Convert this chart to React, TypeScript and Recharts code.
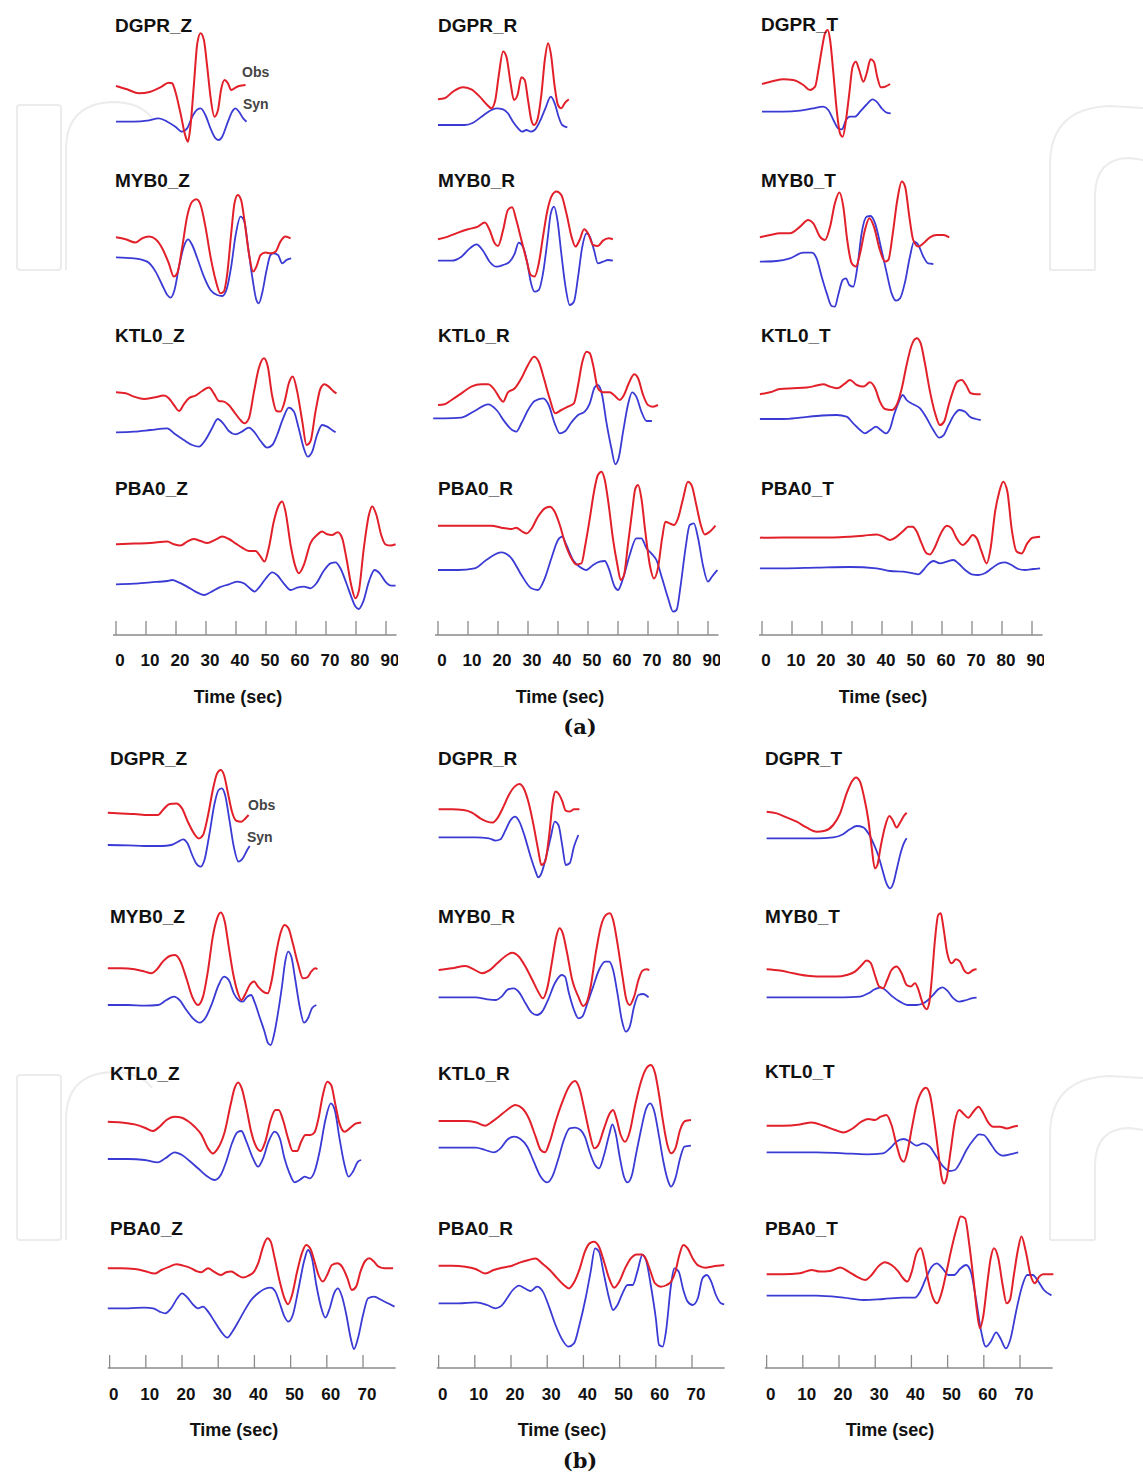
import React from 'react';
import { LineChart, Line, XAxis, YAxis, ReferenceLine } from 'recharts';

type Pt = [number, number];

// ===================== Figure (a) : time (s), amplitude (up positive) =====================
const aDgprZObs: Pt[] = [[0,0],[3.7,-3.3],[7.6,-7.3],[11.5,-5.7],[14.8,-1.3],[17.6,3.3],[18.7,2.7],[19.8,-5.7],[21.5,-27.3],[23.2,-50.7],[24,-55.7],[24.8,-40.7],[26,2.7],[27.1,42.7],[28.2,52.7],[29.3,46],[30.4,19.3],[31.5,-10.7],[32.8,-30.7],[34,-24],[35,-4],[36.2,6],[37.3,2.7],[38.4,-4],[39.5,-2.3],[41,0],[43.2,1]];
const aDgprZSyn: Pt[] = [[0,0],[6,0],[10.4,1],[14.3,3.3],[17.1,0],[19.8,-5],[22,-10],[23.7,-6.7],[25.4,5],[27.1,12.3],[28.2,13.3],[29.8,6.7],[31.5,-6.7],[33.2,-16.7],[34.3,-18.3],[35.4,-15],[37.1,-1.7],[38.7,10],[39.8,13.3],[41,10],[42.4,3.3],[43.5,0]];
const aMyb0ZObs: Pt[] = [[0,0],[3.2,-2],[6.5,-5.3],[8.7,-1],[11,0.7],[13.2,-2],[15.4,-11],[17.6,-26],[19.3,-39.3],[20.4,-36],[22.1,-9.3],[23.7,20.7],[25.4,35.7],[26.8,38],[28.2,32.3],[29.8,10.7],[31.5,-19.3],[33.2,-42.7],[34.8,-56],[35.9,-54.3],[37.1,-36],[38.4,4],[39.5,34],[40.6,42.3],[41.7,37.3],[42.8,17.3],[44.3,-16],[45.7,-34.3],[46.8,-29.3],[48.2,-17.7],[49.8,-15.3],[51.5,-16],[53.2,-14.3],[54.8,-4.3],[56.5,0.7],[58.2,-1]];
const aMyb0ZSyn: Pt[] = [[0,0],[6,-1],[10.4,-4.3],[13.2,-14.3],[15.4,-27.7],[17.1,-37.7],[18.2,-40.3],[19.5,-32.7],[21,-9.3],[22.6,10.7],[24,18],[25.4,12.3],[27.1,-1],[29.3,-19.3],[31.5,-32.7],[33.7,-37.7],[35.4,-38.7],[36.8,-32.7],[38.4,-9.3],[39.8,20.7],[41.5,40.7],[42.8,35.7],[44,10.7],[45.4,-19.3],[46.8,-42.7],[47.6,-46],[48.7,-36],[50.2,-12.7],[51.5,2.3],[52.6,4],[54,2.3],[55.4,-6],[56.8,-2.7],[58.4,-1]];
const aKtl0ZObs: Pt[] = [[0,0],[3.2,-1],[6,-4.3],[9.3,-6.7],[12.6,-5.3],[16,-3.3],[17.6,-6],[19.3,-12.7],[21,-18.7],[22.6,-12],[24.3,-6],[26.5,-3.3],[28.7,1.3],[31,4.7],[32.6,-1],[34.3,-8.7],[36,-9.3],[37.6,-12.7],[39.3,-19.3],[41,-26],[42.8,-31],[44.3,-26],[46,0.7],[47.6,24],[49.3,34],[50.6,25.7],[52,-2.7],[53.5,-18.7],[54.8,-19.3],[56.2,-9.3],[57.6,9],[58.9,15.7],[60.4,0.7],[62.1,-29.3],[63.5,-52.7],[64.8,-49.3],[66.5,-19.3],[68.2,4],[69.5,8],[70.9,5.7],[72.6,0.7],[73.5,-1]];
const aKtl0ZSyn: Pt[] = [[0,0],[6,0.7],[11.5,2.3],[17.1,4],[19.3,-1],[22.6,-7.7],[25.4,-12.7],[27.6,-14.3],[29.8,-7.7],[32,4],[33.9,13.3],[35.7,9],[37.6,1.3],[39.8,-2],[42,0.7],[44.3,4.7],[46,0.7],[48.2,-8.7],[50.4,-15.3],[52.1,-12.7],[53.7,-2.7],[55.7,14],[57.6,24.7],[59.3,20.7],[60.9,4],[62.6,-16],[63.9,-24.3],[65.4,-19.3],[67,-2.7],[68.7,7.3],[70.4,5.7],[72,2.3],[73.2,0]];
const aPba0ZObs: Pt[] = [[0,0],[6,0.7],[11.5,1.3],[17.1,2.7],[19.3,0],[21.5,-1.3],[23.7,2.7],[25.9,5.3],[28.2,3.3],[30.4,1.3],[33.2,4.7],[35.4,7.7],[37.6,5.3],[39.8,1],[42,-3.3],[44.3,-6.7],[46.5,-6.7],[48.2,-12.3],[49.5,-17.3],[50.9,-4],[52.6,22.7],[54.3,39.3],[55.4,42.7],[56.5,32.7],[58.2,-0.7],[59.8,-22.3],[60.9,-29],[62.6,-20.7],[64.8,1],[67,9.3],[68.7,12.7],[70.4,10],[72,9.3],[73.9,12],[75.4,6],[76.8,-14],[78.4,-40.7],[79.8,-54],[80.9,-47.3],[82.6,-4],[84.3,29.3],[85.4,37.7],[86.8,29.3],[88.4,9.3],[89.8,0],[91.5,-1.3],[93.2,0]];
const aPba0ZSyn: Pt[] = [[0,0],[6,0.7],[11.5,2],[17.1,3.3],[18.7,4.3],[20.9,2],[23.7,-2.3],[26.5,-7.3],[29.3,-10.7],[31.5,-8],[34.3,-3.3],[37.6,0],[40.4,2.7],[42.6,1],[44.6,-4],[46.2,-7.3],[47.9,-2.3],[49.8,5.3],[52.1,12],[53.7,9.3],[55.9,1],[58.2,-5.7],[60.4,-3.3],[62.6,-2.3],[64.8,-4],[66.8,1],[69.1,12.7],[71.5,21],[73.2,22],[74.8,16],[76.8,1],[78.4,-12.3],[79.8,-22.3],[80.9,-24.7],[82.4,-17.3],[84.3,2.7],[86.2,14.3],[87.9,11],[89.8,2.7],[91.7,-1.3],[93.2,-1.3]];

const aDgprRObs: Pt[] = [[0,0],[2.2,1],[5,7.7],[8.3,12],[11.1,10],[13.9,2.7],[16.1,-4.7],[17.8,-9],[19.1,-0.7],[20.2,22.7],[21.7,47.7],[22.8,42.7],[24.2,16],[25.3,-0.7],[26.5,4.3],[27.8,22],[28.9,19.3],[30,-0.7],[31.1,-20.7],[32,-25.7],[33.1,-20.7],[34.5,6],[35.6,39.3],[36.7,56],[37.6,46],[38.9,12.7],[40,-5.7],[41.1,-9],[42.2,-4],[43.6,0]];
const aDgprRSyn: Pt[] = [[0,0],[4.5,0],[8.9,0],[11.7,2.3],[14.5,8.3],[17.2,14],[19.5,16.7],[21.7,15.7],[23.3,11.7],[25,3.3],[26.7,-3.3],[28,-6.7],[29.5,-5],[30.9,-6.7],[32.2,-5],[33.9,3.3],[35.8,16.7],[37.6,28.3],[38.9,21.7],[40.2,8.3],[41.4,0],[43.1,-2.3]];
const aMyb0RObs: Pt[] = [[0,0],[3.3,2.7],[6.7,6.7],[10,10],[13.3,12.7],[15.6,16.7],[17.2,9.3],[18.9,-4],[20,-6.7],[21.7,9.3],[23.3,29.3],[24.7,32],[26.1,19.3],[27.8,-0.7],[29.5,-20.7],[30.9,-35.7],[32.2,-37.3],[33.6,-24],[35,2.7],[36.5,29.3],[37.8,42.7],[39.5,47.7],[41.1,44.3],[42.8,26],[44.5,2.7],[45.8,-7.3],[47.2,-0.7],[48.7,10],[50,6],[51.7,-5.7],[53.3,-6.7],[55,-1.3],[56.9,1],[58.3,0]];
const aMyb0RSyn: Pt[] = [[0,0],[4.5,0],[7.8,4],[10.6,12.3],[12.8,16.3],[15,10],[17.2,-1],[19.5,-6],[21.7,-4.3],[23.9,-1],[25.6,7.3],[26.9,18],[28.3,14],[29.8,-2.7],[30.9,-21],[32.2,-31],[33.6,-29.3],[35,-12.7],[36.5,20.7],[37.6,47.3],[38.7,54],[39.8,40.7],[41.1,7.3],[42.5,-26],[43.9,-44.3],[45.3,-41],[46.7,-16],[48,12.3],[49.5,27.3],[50.6,24],[52,10.7],[53.3,-2.7],[55,-1],[56.7,0.7],[58.3,0]];
const aKtl0RObs: Pt[] = [[0,0],[2.2,0.7],[4.5,5],[7.8,11.7],[11.1,18.3],[14.5,20.7],[16.7,20.7],[18.9,15],[20.6,6.7],[21.7,3.3],[23.3,12.7],[25.6,16.7],[27.8,26.7],[30,40],[32,48.3],[33.6,43.3],[35.3,26.7],[37.2,6.7],[39.1,-8.3],[41.1,-5],[43.3,-1.7],[45.3,1.7],[46.7,20],[48,41.7],[49.5,53.3],[50.6,51.7],[51.7,40],[53.3,16.7],[55,12.7],[57.2,12.7],[58.9,9.3],[60.6,5],[62,10],[63.6,21.7],[65.4,30.7],[66.7,26.7],[68.3,10.7],[70,0],[71.7,-1.7],[73.3,0]];
const aKtl0RSyn: Pt[] = [[-1.6,0],[2.2,0],[7.8,0.7],[12.2,7.3],[16.7,14],[19.5,8.3],[22.2,-3.3],[24.7,-11.7],[26.1,-13.3],[27.8,-5],[30,8.3],[32.2,17.3],[35,20],[36.9,13.3],[38.9,-5],[40.6,-15],[42.2,-13.3],[44.5,-4],[46.7,3.3],[48.9,6.7],[50.6,15],[52.2,30.7],[53.3,33.3],[54.7,23.3],[56.1,-3.3],[57.8,-30],[59.1,-46],[60.2,-40],[61.7,-13.3],[63.3,13.3],[64.7,26],[66.1,21.7],[67.8,6.7],[69.5,-2.7],[71.3,-2.7]];
const aPba0RObs: Pt[] = [[0,0],[6.7,0],[12.2,0],[17.8,0],[21.1,-2],[24.5,-3.3],[26.1,-2],[27.8,-5.3],[29.5,-7.7],[31.1,-3.3],[33.3,9],[35.6,17.3],[37.2,19],[38.9,14],[40.6,0.7],[42.2,-16],[44.2,-31],[46.1,-38.7],[47.8,-37.7],[49.1,-19.3],[50.6,7.3],[52,34],[53.3,50.7],[54.5,54],[55.6,45.7],[56.9,20.7],[58.3,-12.7],[59.8,-39.3],[60.9,-54.3],[62,-49.3],[63.3,-19.3],[64.7,14],[65.8,37.3],[66.7,40.7],[67.8,27.3],[69.1,-6],[70.6,-39.3],[72,-52.7],[73.3,-42.7],[74.7,-12.7],[75.8,4],[77.2,2.3],[78.7,0.7],[80,7.3],[81.7,27.3],[83.3,44],[84.5,40.7],[86.1,20.7],[87.6,0.7],[88.9,-8.7],[90.6,-6],[92.5,0]];
const aPba0RSyn: Pt[] = [[0,0],[6.7,0],[12.2,1.7],[16.1,10],[21.1,17.7],[24.5,11.7],[27.8,-5],[31.1,-18.3],[33.3,-20],[35.6,-8.3],[37.8,11.7],[40,30],[41.4,33.3],[42.8,25],[45,10],[47.2,3.3],[49.5,0],[51.7,5],[53.9,8.3],[55.6,9],[56.9,1.7],[58.9,-16.7],[60,-20],[61.7,-8.3],[63.9,15],[66.1,31.7],[67.8,31.7],[69.5,21.7],[71.1,16.7],[72.8,10],[74.7,-8.3],[76.7,-28.3],[78.4,-41.7],[79.5,-40],[80.9,-15],[82.5,21.7],[83.9,45],[85.3,46.7],[86.7,31.7],[88.3,5],[90,-11.7],[91.3,-6.7],[93.1,0]];

const aDgprTObs: Pt[] = [[0,0],[3.8,3],[7.1,4.7],[10.4,4],[13.8,-1],[16,-6],[17.7,-2.7],[18.8,14],[19.9,34],[21,50.7],[21.9,54],[22.7,44],[23.8,10.7],[24.9,-26],[26,-49.3],[26.9,-52.7],[28,-36],[29.1,-9.3],[30.2,17.3],[31.3,22.3],[32.4,14],[33.8,2.3],[34.9,10.7],[36.2,24.7],[37.3,22.3],[38.4,7.3],[39.6,-3.3],[41,-2.7],[42.7,0]];
const aDgprTSyn: Pt[] = [[0,0],[7.1,0],[12.7,1],[17.1,3.3],[20.4,5],[22.1,1.7],[23.8,-8.3],[25.4,-16.7],[26.6,-17.7],[28,-8.3],[29.3,-5],[31,-5],[32.7,0],[34.7,6.7],[36.9,12.3],[38.2,10],[39.9,3.3],[41.6,-1],[42.9,-1.7]];
const aMyb0TObs: Pt[] = [[-0.7,0],[2.7,2.3],[6,4],[9.3,4],[12.7,10.7],[15.4,17.3],[17.1,14],[19.3,0.7],[21,-2.7],[22.7,10.7],[24.3,34],[25.8,44.7],[27.1,30.7],[28.4,-2.7],[29.9,-26],[31.3,-29.3],[32.7,-16],[34.3,7.3],[35.8,19],[37.3,10.7],[39.3,-12.7],[41,-24.3],[42.1,-22.7],[43.6,4],[45.1,37.3],[46.6,55.7],[47.7,50.7],[49.1,20.7],[50.4,-2.7],[52.1,-9.3],[53.8,-6],[56,0],[58.2,2.3],[60.4,2.3],[62.4,0]];
const aMyb0TSyn: Pt[] = [[-0.7,0],[4.9,0.7],[9.3,3.3],[13.8,9],[16.6,9],[18.2,3.3],[19.9,-15],[21.6,-31.7],[23.2,-44.3],[24.3,-45],[25.4,-33.3],[26.9,-18.3],[28,-16.7],[29.1,-23.3],[30.4,-25],[31.8,-5],[33.2,28.3],[34.9,45],[36.2,45.7],[37.7,38.3],[39.6,15],[41.6,-11.7],[43.2,-31.7],[44.7,-39],[46,-36.7],[47.7,-20],[49.3,5],[50.7,20],[52.1,16.7],[53.8,5],[55.4,-1.7],[57.1,-2.3]];
const aKtl0TObs: Pt[] = [[-0.7,0],[2.7,2],[6,5.3],[10.4,6],[14.9,6.7],[18.2,8.7],[20.4,10],[22.7,7.7],[25.1,6],[27.7,11],[29.3,14.3],[31.6,9.3],[33.8,7.7],[36,12],[37.7,6],[39.3,-7.3],[41,-14.7],[43.2,-15.7],[44.9,-10.7],[46.6,6],[48.2,29.3],[49.9,49.3],[51.6,56],[52.9,51],[54.3,31],[56,2.7],[57.7,-19],[59.3,-30.7],[60.7,-27.3],[62.1,-12.3],[63.6,2.7],[65.1,12.7],[66.6,14.3],[68,9.3],[69.6,1],[71.6,0],[72.9,0]];
const aKtl0TSyn: Pt[] = [[-0.7,0],[7.1,0],[12.7,1.3],[18.2,3],[24.9,4],[28.2,2.3],[30.4,-4.3],[32.7,-11],[34.3,-14.3],[36.2,-11],[38,-7.7],[39.6,-11],[41.3,-14.3],[42.7,-9.3],[44,4],[45.4,15.7],[46.9,24],[48.2,19],[50.4,14.7],[52.7,10.7],[54.9,0.7],[57.1,-11],[59.1,-18.7],[60.4,-16.7],[62.1,-6.7],[64,4],[65.8,9],[67.7,7.3],[69.3,2.3],[71.3,0],[72.9,-1]];
const aPba0TObs: Pt[] = [[-0.7,0],[7.1,0.3],[12.7,0.3],[18.2,0.3],[23.8,0.3],[29.3,1],[33.8,2],[38.2,3.3],[40.4,1],[42.7,-2.3],[44.9,1],[47.1,6.7],[48.8,11],[50.2,11],[51.6,6],[53.2,-5.7],[54.9,-15.7],[56,-16.7],[57.7,-9],[59.6,4.3],[61.6,12],[63.2,9.3],[64.9,-0.7],[66.9,-7.3],[68.8,-2.3],[70.2,2.7],[71.6,-0.7],[73.2,-14],[74.9,-25.7],[76.2,-10.7],[77.7,26],[79.1,46],[80.4,56],[81.8,46],[83.2,9.3],[84.9,-14],[86.6,-15.7],[88.4,-5.7],[90.2,0],[92.7,1]];
const aPba0TSyn: Pt[] = [[-0.7,0],[7.1,0],[18.2,0.7],[29.3,1.3],[38.2,0],[42.7,-2.7],[47.1,-3.3],[50.4,-5],[52.1,-6],[53.8,-1.7],[55.4,4],[57.1,7.3],[59.3,5],[61.6,6.7],[63.8,8.3],[65.4,5],[67.7,-1.7],[69.9,-6],[72.1,-6.7],[74.3,-5],[76.6,0],[79.1,5],[81,6],[83.2,3.3],[85.4,-0.7],[87.7,-1.7],[90.4,-0.7],[92.7,0]];

// ===================== Figure (b) =====================
const bDgprZObs: Pt[] = [[-0.5,0],[3.2,-0.7],[6.9,-1.3],[10.6,-2.3],[13.4,-2.3],[14.7,2.7],[16.6,8.7],[18.4,9.3],[20,4.3],[21.6,-9],[23.3,-20.7],[24.6,-25.7],[25.8,-22.3],[27.2,-2.3],[28.5,22.7],[29.7,39.3],[30.7,42.7],[31.6,37.7],[32.7,19.3],[33.8,1],[35,-8],[36.4,-9],[37.5,-5.7],[38.4,-2.3]];
const bDgprZSyn: Pt[] = [[-0.5,0],[5.1,-0.3],[9.7,-1],[14.3,-1],[17,0],[18.9,3.3],[20.3,5.7],[21.5,1.7],[22.8,-10],[23.9,-18.3],[25.1,-21.7],[26.2,-15],[27.6,11.7],[29,41.7],[30.1,55],[31,56.7],[31.9,50],[33.1,25],[34.3,-1.7],[35.6,-16.7],[36.8,-13.3],[38,-5],[38.7,-1]];
const bMyb0ZObs: Pt[] = [[-0.5,0],[3.2,0],[6.9,-1],[9.7,-3.3],[11.5,-5],[12.9,-1.7],[14.7,6.7],[16.6,12.3],[18.1,13.3],[19.6,6.7],[21.2,-10],[22.8,-28.3],[24.4,-36.7],[25.8,-28.3],[27.2,-1.7],[28.5,31.7],[29.7,50],[30.7,55.7],[31.8,46.7],[32.9,21.7],[34.1,-5],[35.3,-23.3],[36.4,-31.7],[37.5,-25.7],[38.7,-16.7],[39.9,-13.3],[41,-18.3],[42.4,-23.3],[43.7,-25],[44.8,-11.7],[46,15],[47.2,35],[48.3,43.3],[49.4,40],[50.6,25],[52,5],[53.4,-10],[54.6,-9],[55.7,-3.3],[56.8,0],[57.4,-1]];
const bMyb0ZSyn: Pt[] = [[-0.5,0],[5.1,0],[9.7,-0.7],[13.4,0],[15.7,5],[17.8,8.3],[19.3,5],[21.2,-5],[23,-13.3],[24.9,-17.7],[26.4,-13.3],[28.3,1.7],[30.1,20],[31.6,28.3],[32.9,25],[34.3,11.7],[35.6,5],[36.8,3.3],[38,8.3],[39.1,10],[40,3.3],[41.4,-11.7],[42.8,-26.7],[43.7,-37.7],[44.5,-40],[45.4,-30],[46.5,-8.3],[47.6,18.3],[48.5,43.3],[49.3,53.3],[50.2,48.3],[51.3,25],[52.5,-1.7],[53.7,-17.7],[54.8,-13.3],[55.9,-3.3],[57.1,0]];
const bKtl0ZObs: Pt[] = [[-0.5,0],[3.2,-0.7],[6.9,-2.7],[9.7,-6],[11.9,-9.3],[13.8,-5],[15.7,1.7],[18,5],[20,4],[21.6,0.7],[23.5,-5],[25.3,-12.7],[27.2,-26.7],[28.5,-31.7],[29.9,-26.7],[31.8,-10],[33.4,16.7],[34.5,33.3],[35.5,39.3],[36.5,33.3],[37.8,13.3],[39.1,-10],[40.5,-25],[41.7,-29.3],[43,-20],[44.5,1.7],[45.8,11.7],[46.7,11.7],[47.9,1.7],[49.3,-16.7],[50.6,-29.3],[51.8,-29.3],[52.9,-20],[54.1,-13.3],[55.5,-13.3],[56.6,-10.7],[57.7,3.3],[58.9,26.7],[60.1,40],[61.2,36.7],[62.3,18.3],[63.5,-1.7],[64.9,-10],[66.3,-6.7],[68.1,-1.7],[69.5,-0.7]];
const bKtl0ZSyn: Pt[] = [[-0.5,0],[5.1,0],[9.7,-1],[13.4,-3.3],[15.4,0.7],[18,6.7],[20,4],[22.1,-2],[24.4,-9.3],[26.7,-16.7],[29,-21],[30.7,-16],[32.2,-2.7],[33.8,15.7],[35.3,26.7],[36.4,28],[37.8,17.3],[39.6,0.7],[41,-7.7],[42.4,0.7],[43.9,17.3],[45.6,27.3],[47,20.7],[48.3,0.7],[49.7,-14.3],[51.1,-23.3],[52.5,-21],[53.9,-17.7],[55.3,-19.3],[56.6,-12.7],[58,7.3],[59.6,39],[61.1,55.7],[62.2,49],[63.5,20.7],[64.9,-6],[66,-17.7],[67.2,-12.7],[68.6,-2.7],[69.5,-1]];
const bPba0ZObs: Pt[] = [[-0.5,0],[3.2,0],[6.9,-0.7],[9.7,-2.7],[12.4,-5.3],[14.3,-1.7],[16.6,1.7],[18.4,4],[20.3,2.7],[22.1,0.7],[23.9,-2.7],[25.3,-4],[27.2,0],[28.8,-3.3],[30.7,-6.7],[32.2,-4],[33.6,-3.3],[35.3,-6.7],[36.8,-9.3],[38.4,-7.3],[39.9,-3.3],[41.2,6.7],[42.4,21.7],[43.6,30],[44.5,26.7],[45.6,10],[47,-13.3],[48.3,-30],[49.3,-36],[50.4,-26.7],[51.8,-3.3],[53.1,15],[54.3,23.3],[55.5,19.3],[56.6,6.7],[57.7,-6.7],[58.9,-13.3],[60.1,-6.7],[61.4,3.3],[62.9,5],[64.2,1.7],[65.7,-10],[66.9,-21.7],[68.1,-18.3],[69.3,-3.3],[70.6,7.3],[71.8,10],[73,6.7],[74.3,1.7],[76,0],[78.3,0]];
const bPba0ZSyn: Pt[] = [[-0.5,0],[5.1,0],[9.7,0.7],[12,0],[13.8,-3.3],[15.4,-5],[17,0],[18.7,10],[20,15],[21.5,10.7],[23,4],[24.4,0],[25.8,1.7],[27.2,-3.3],[29,-13.3],[30.8,-23.3],[32.5,-29.3],[33.8,-24],[35.3,-15],[37.1,-3.3],[39.1,8.3],[41,15],[42.8,19.3],[44.5,20.7],[45.8,16.7],[47,5],[48.3,-8.3],[49.4,-13.3],[50.6,-6.7],[52.2,20],[53.7,46.7],[54.8,58.3],[55.9,50],[57.1,23.3],[58.5,0],[59.6,-9.3],[60.8,0],[62,15],[63.1,20],[64.2,11.7],[65.4,-6.7],[66.6,-30],[67.5,-40.7],[68.6,-30],[70,-6.7],[71.4,10],[73,11.7],[75.1,8.3],[76.9,5],[78.7,1.7]];

const bDgprRObs: Pt[] = [[0,0],[3.7,0],[6.9,-0.7],[9.2,-3.3],[11.5,-9],[13.4,-12.3],[14.8,-13.3],[16.2,-9],[17.7,1],[19.4,14.3],[21,22.7],[22.3,25.3],[23.5,21],[24.9,6],[26.3,-17.3],[27.5,-40.7],[28.4,-55.7],[29.4,-52.3],[30.5,-27.3],[31.6,9.3],[32.3,17.7],[33.2,15.3],[34.2,7.7],[35.1,-1.3],[36.2,-2.3],[37.4,0],[38.9,0]];
const bDgprRSyn: Pt[] = [[0,0],[5.5,0],[10.2,0],[13.9,-1],[15.7,-3.3],[17.1,-2],[18.5,7.3],[19.9,17.3],[21.1,20.7],[22.3,15.7],[23.8,0.7],[25.4,-19.3],[26.8,-34.3],[27.5,-40],[28.4,-36],[29.7,-19.3],[30.9,-1],[32.1,15.7],[33.1,12.3],[34.2,-9.3],[35.1,-27.7],[36.2,-26],[37.4,-9.3],[38.6,2.3]];
const bMyb0RObs: Pt[] = [[0,0],[3.7,1.7],[7.4,4],[9.7,0.7],[12,-3.3],[13.9,-0.7],[16.2,6.7],[18.5,14],[20.3,17.3],[22.2,13.3],[24,3.3],[25.9,-10],[27.5,-21.7],[28.8,-28.3],[30,-18.3],[31.4,10],[32.5,33.3],[33.4,41.7],[34.3,36.7],[35.5,16.7],[36.9,-10],[38.6,-26.7],[39.9,-36],[40.8,-33.3],[42,-16.7],[43.4,16.7],[44.8,43.3],[46.2,55],[47.3,56.7],[48.2,50],[49.4,26.7],[50.8,-6.7],[51.9,-30],[52.8,-35],[54,-26.7],[55.2,-10],[56.3,-0.7],[57.4,0.7],[58.2,0]];
const bMyb0RSyn: Pt[] = [[0,0],[5.5,0],[10.2,0],[13.4,-2],[15.7,-2.7],[17.4,0.7],[19.2,8],[20.8,9],[22.3,4.7],[24,-6],[25.7,-15.3],[27.2,-17.7],[28.6,-14.3],[30.3,-2],[32.1,14],[34,22.3],[34.9,20.7],[36,4],[37.4,-12.7],[38.6,-21],[39.7,-19.3],[41.1,-6],[42.7,10.7],[44.3,27.3],[46,35.7],[47.1,35.7],[48.2,27.3],[49.4,4],[50.6,-22.7],[51.7,-34.3],[52.8,-29.3],[54,-9.3],[55.2,2.3],[56.5,3.3],[58,0]];
const bKtl0RObs: Pt[] = [[0,0],[3.7,0],[7.4,0],[10.2,-1.3],[12.9,-4.7],[14.8,-0.7],[16.6,4.3],[18.9,11],[21.2,16],[23.1,12.7],[24.9,2.7],[26.8,-15.7],[28.2,-29],[29.4,-31.3],[30.7,-20.7],[32.3,-0.7],[34.2,19.3],[36,34.3],[37.7,40],[38.9,32.7],[40.2,12.7],[41.6,-10.7],[43,-27.3],[44.1,-24],[45.7,-7.3],[47.3,7.7],[48.2,11],[49.1,2.7],[50.3,-14],[51.5,-20.7],[52.8,-10.7],[54.3,16],[55.9,39.3],[57.4,52.7],[58.6,56],[59.8,47.7],[60.9,26],[62,-0.7],[63.2,-24],[64.2,-32.3],[65.4,-27.3],[66.7,-9],[68.1,0],[69.7,1]];
const bKtl0RSyn: Pt[] = [[0,0],[5.5,0],[10.2,0],[12.9,-2.3],[15.2,-4.7],[17.1,-0.7],[18.9,7.7],[20.8,11],[22.6,8.7],[24.5,1],[26.3,-14],[28.2,-29],[30,-34.7],[31.4,-29],[33.1,-10.7],[34.6,7.7],[36.2,19.3],[37.7,20],[39.2,17.7],[40.4,11],[41.7,-4],[43.2,-17.3],[44.3,-20.7],[45.7,-7.3],[47.1,12.7],[48,23.3],[48.9,14.3],[50.1,-10.7],[51.2,-29],[52.2,-34.7],[53.4,-27.3],[54.5,-7.3],[55.9,17.7],[57.2,37.7],[58.4,44.3],[59.6,36],[60.9,11],[62.1,-14],[63.3,-32.3],[64.2,-39],[65.4,-30.7],[66.7,-10.7],[67.9,1],[69.7,2]];
const bPba0RObs: Pt[] = [[0,0],[3.7,0],[7.4,-1],[10.2,-3.3],[12.9,-7.7],[15.2,-4.3],[17.5,-2],[20.3,0],[22.6,3.3],[24.9,5.7],[26.8,7.3],[28.6,2.3],[30.7,-4.3],[32.8,-12.7],[34.6,-19.3],[36,-22.7],[37.4,-16.7],[39,-2.7],[40.4,14],[41.7,22.3],[42.9,24],[44.3,19],[45.7,4],[47.1,-12.7],[48.5,-22],[49.9,-16],[51.5,-2.7],[53.1,7.3],[54.7,11.3],[56.1,11.3],[57.2,7.3],[58.4,-4.3],[59.8,-17.7],[61.4,-21],[63,-19.3],[64.2,-16],[65.4,-6],[66.5,10.7],[67.6,20.7],[68.8,17.3],[70.2,7.3],[71.8,0],[73.7,-2],[75.7,-0.7],[78.9,0.7]];
const bPba0RSyn: Pt[] = [[0,0],[5.5,0],[10.2,1],[13.4,-1.7],[15.7,-5],[17.4,-2.3],[18.9,5],[20.5,13.3],[22.2,17.7],[23.8,15],[25.4,12.3],[27.2,16.7],[28.8,11.7],[30.5,-3.3],[32.3,-21.7],[34.2,-36.7],[35.8,-43.3],[37.4,-40],[38.9,-21.7],[40.6,5],[42,31.7],[43.2,55],[44.3,51.7],[45.7,28.3],[47.1,5],[48.2,-6.7],[49.4,-1.7],[50.8,10],[52.2,18.3],[53.6,18.3],[54.9,31.7],[56.3,48.3],[57.4,41.7],[58.6,18.3],[60,-15],[60.9,-41.7],[61.9,-43.3],[62.8,-28.3],[64.2,18.3],[65.1,35],[66.3,31.7],[67.6,13.3],[68.8,1.7],[70.2,-1.7],[71.6,5],[72.9,25],[74.1,28.3],[75.3,21.7],[76.6,8.3],[78,0],[78.9,-1]];

const bDgprTObs: Pt[] = [[0,0],[2.8,-1.7],[5.5,-5.7],[8.3,-10],[11,-15.7],[13.8,-20],[16.1,-19],[18.4,-13.3],[20.3,-1.7],[22.1,18.3],[23.5,30],[24.7,34.3],[25.8,30],[26.9,15],[28.1,-8.3],[29,-35],[29.9,-56.7],[30.6,-53.3],[31.5,-35],[32.7,-15],[33.9,-4.3],[34.8,-8.3],[35.9,-15.7],[37,-10],[37.9,-4.3],[38.7,-1]];
const bDgprTSyn: Pt[] = [[0,0],[4.6,0],[9.2,0],[13.8,0],[18.4,1],[20.7,3.3],[23,9],[24.9,12.3],[26.7,11],[28.1,5],[29.5,-5],[30.8,-16.7],[32,-31.7],[33.1,-45],[34.1,-50],[35,-45],[35.9,-31.7],[37,-15],[37.9,-5],[38.7,0]];
const bMyb0TObs: Pt[] = [[0,0],[3.7,-1.3],[7.4,-4],[12,-6.7],[15.7,-7.3],[19.3,-7.3],[22.1,-5.7],[24.4,-2.3],[26.3,4.3],[27.6,8.7],[28.7,6.7],[29.9,-5.7],[31.1,-17.3],[32.2,-19],[33.3,-10.7],[34.5,-0.7],[35.9,2.7],[37.3,-4],[38.7,-15.7],[39.8,-17.3],[41,-14],[41.9,-20],[42.8,-30.7],[43.5,-37.3],[44.2,-40],[44.9,-34],[45.6,-10.7],[46.5,29.3],[47.4,54.3],[48.1,56],[48.8,42.7],[49.9,16],[51.1,6],[52.3,10],[53.4,7.7],[54.5,-0.7],[55.7,-4],[57.1,-0.7],[58,0]];
const bMyb0TSyn: Pt[] = [[0,0],[6.4,0],[13.8,0],[21.2,0],[25.8,0.7],[28.1,4],[29.9,8],[31.5,10],[33,6.7],[34.8,0.7],[36.8,-4.3],[39.1,-7.7],[41.4,-7.7],[43.3,-6],[44.6,-2.7],[46,2.3],[47.4,8],[48.6,10],[49.9,6.7],[51.6,-1],[53.2,-4.3],[55.2,-2.7],[56.6,-1],[58,-0.3]];
const bKtl0TObs: Pt[] = [[0,0],[4.6,0],[9.2,1.3],[12.4,3.3],[15.7,0],[18.9,-4.3],[21.2,-6.7],[23.5,-3.3],[26.2,4],[28.1,6.7],[29.9,5.7],[31.5,9],[33.1,10.7],[34.5,0.7],[35.9,-19.3],[37,-32.7],[37.9,-36],[38.9,-26],[40.1,-2.7],[41.4,20.7],[42.8,34],[44,38],[45.1,31.3],[46.2,7.3],[47.4,-26],[48.3,-51],[49,-57.7],[49.7,-52.7],[50.8,-26],[52,4],[53.2,15.7],[54.3,12.3],[55.7,8],[57.1,14],[58.5,19],[59.9,12.3],[61.2,3.3],[62.6,-1],[64.5,-1],[66.3,-2.7],[68.1,-1],[69.4,0]];
const bKtl0TSyn: Pt[] = [[0,0],[6.4,0],[13.8,0],[21.2,-1],[27.6,-2],[32.2,-1],[34.1,4],[35.9,10.7],[37.9,13.3],[39.6,10.7],[41.4,6.7],[43.3,9],[45.1,5.7],[46.9,-4.3],[48.8,-14.3],[50.5,-18.7],[52,-17.7],[53.6,-9.3],[55.2,2.3],[57.1,12.3],[58.7,18],[60,17.3],[61.5,10.7],[63.4,0.7],[65.2,-3.3],[67.2,-2],[69.5,0]];
const bPba0TObs: Pt[] = [[0,0],[4.6,0],[9.2,1],[12.4,4.3],[14.7,2.7],[17.5,3.3],[20.3,6.7],[22.6,2.7],[24.9,-2.3],[27.2,-5.7],[29,-0.7],[30.8,7.7],[32.7,12],[34.5,9.3],[36.4,2.7],[37.7,-4],[38.9,-7.3],[40.1,2.7],[41.4,21],[42.6,26],[43.5,16],[44.7,-7.3],[46,-24],[47.1,-29],[48.3,-19],[49.7,2.7],[51.1,26],[52.5,46],[53.6,57.7],[54.8,56],[56,29.3],[57.1,-4],[58,-34],[58.9,-54],[59.9,-40.7],[60.9,-10.7],[61.9,16],[62.8,26],[64,16],[65.2,-10.7],[66.3,-29],[67.2,-25.7],[68.3,-0.7],[69.5,26],[70.4,37.7],[71.6,22.7],[72.9,-0.7],[74.1,-9],[75.3,-2.3],[76.4,0],[79.2,0]];
const bPba0TSyn: Pt[] = [[0,0],[6.4,0],[13.8,0],[21.2,-2],[26.7,-4.3],[32.2,-3.3],[37.7,-2],[41,-2],[42.4,4],[44,17.3],[45.6,29],[47,32.3],[48.6,27.3],[50.2,20.7],[51.8,20.7],[53.4,26.7],[55.1,30.7],[56.4,24],[57.8,-2.7],[59.1,-32.7],[60.6,-51],[61.9,-46],[63.4,-36.7],[64.6,-42.7],[66.1,-52.7],[67.4,-42.7],[68.9,-16],[70.4,7.3],[72,20.7],[73.5,20.7],[75.1,14],[76.6,5.7],[78.7,0.3]];

// tick labels
const ticksA = [0, 10, 20, 30, 40, 50, 60, 70, 80, 90];
const ticksB = [0, 10, 20, 30, 40, 50, 60, 70];

// ===================== layout (positions only) =====================
interface Panel { name: string; titleY: number; obsBase: number; synBase: number; obs: Pt[]; syn: Pt[] }
interface Col { x0: number; titleX: number; timeX: number; panels: Panel[] }
interface Fig {
  key: string; top: number; axisY: number; tMin: number; tMax: number; pps: number;
  ticks: number[]; tickLen: number; labelDy: number; axisFrom: number; axisTo: number;
  timeY: number; capX: number; capY: number; cap: string; obsLbl: [number, number]; synLbl: [number, number];
  cols: Col[];
}

const FIGS: Fig[] = [
  {
    key: 'a', top: 0, axisY: 635, tMin: -2, tMax: 94, pps: 3.0, ticks: ticksA, tickLen: 14, labelDy: 31,
    axisFrom: -1, axisTo: 93.5, timeY: 703, capX: 580, capY: 734, cap: '(a)', obsLbl: [242, 77], synLbl: [243, 109],
    cols: [
      { x0: 115.5, titleX: 115, timeX: 238, panels: [
        { name: 'DGPR_Z', titleY: 32, obsBase: 86, synBase: 121.7, obs: aDgprZObs, syn: aDgprZSyn },
        { name: 'MYB0_Z', titleY: 187, obsBase: 237.3, synBase: 257.3, obs: aMyb0ZObs, syn: aMyb0ZSyn },
        { name: 'KTL0_Z', titleY: 342, obsBase: 392.3, synBase: 432.3, obs: aKtl0ZObs, syn: aKtl0ZSyn },
        { name: 'PBA0_Z', titleY: 495, obsBase: 544.3, synBase: 584.3, obs: aPba0ZObs, syn: aPba0ZSyn },
      ] },
      { x0: 438.3, titleX: 438, timeX: 560, panels: [
        { name: 'DGPR_R', titleY: 32, obsBase: 99.3, synBase: 125, obs: aDgprRObs, syn: aDgprRSyn },
        { name: 'MYB0_R', titleY: 187, obsBase: 239.3, synBase: 260.7, obs: aMyb0RObs, syn: aMyb0RSyn },
        { name: 'KTL0_R', titleY: 342, obsBase: 405, synBase: 418.3, obs: aKtl0RObs, syn: aKtl0RSyn },
        { name: 'PBA0_R', titleY: 495, obsBase: 525.7, synBase: 570, obs: aPba0RObs, syn: aPba0RSyn },
      ] },
      { x0: 762, titleX: 761, timeX: 883, panels: [
        { name: 'DGPR_T', titleY: 31, obsBase: 84, synBase: 111.7, obs: aDgprTObs, syn: aDgprTSyn },
        { name: 'MYB0_T', titleY: 187, obsBase: 237.3, synBase: 261.7, obs: aMyb0TObs, syn: aMyb0TSyn },
        { name: 'KTL0_T', titleY: 342, obsBase: 394.3, synBase: 419, obs: aKtl0TObs, syn: aKtl0TSyn },
        { name: 'PBA0_T', titleY: 495, obsBase: 537.7, synBase: 568.3, obs: aPba0TObs, syn: aPba0TSyn },
      ] },
    ],
  },
  {
    key: 'b', top: 740, axisY: 1368, tMin: -1, tMax: 80, pps: 3.62, ticks: ticksB, tickLen: 13, labelDy: 32,
    axisFrom: -0.5, axisTo: 79, timeY: 1436, capX: 580, capY: 1468, cap: '(b)', obsLbl: [248, 810], synLbl: [247, 842],
    cols: [
      { x0: 110, titleX: 110, timeX: 234, panels: [
        { name: 'DGPR_Z', titleY: 765, obsBase: 812.7, synBase: 845, obs: bDgprZObs, syn: bDgprZSyn },
        { name: 'MYB0_Z', titleY: 923, obsBase: 968.3, synBase: 1005, obs: bMyb0ZObs, syn: bMyb0ZSyn },
        { name: 'KTL0_Z', titleY: 1080, obsBase: 1121.7, synBase: 1159, obs: bKtl0ZObs, syn: bKtl0ZSyn },
        { name: 'PBA0_Z', titleY: 1235, obsBase: 1268.3, synBase: 1308.3, obs: bPba0ZObs, syn: bPba0ZSyn },
      ] },
      { x0: 438.3, titleX: 438, timeX: 562, panels: [
        { name: 'DGPR_R', titleY: 765, obsBase: 809.3, synBase: 837.3, obs: bDgprRObs, syn: bDgprRSyn },
        { name: 'MYB0_R', titleY: 923, obsBase: 970, synBase: 997.3, obs: bMyb0RObs, syn: bMyb0RSyn },
        { name: 'KTL0_R', titleY: 1080, obsBase: 1121, synBase: 1147.7, obs: bKtl0RObs, syn: bKtl0RSyn },
        { name: 'PBA0_R', titleY: 1235, obsBase: 1265.7, synBase: 1303.3, obs: bPba0RObs, syn: bPba0RSyn },
      ] },
      { x0: 766.7, titleX: 765, timeX: 890, panels: [
        { name: 'DGPR_T', titleY: 765, obsBase: 811.7, synBase: 838.3, obs: bDgprTObs, syn: bDgprTSyn },
        { name: 'MYB0_T', titleY: 923, obsBase: 969.3, synBase: 997.3, obs: bMyb0TObs, syn: bMyb0TSyn },
        { name: 'KTL0_T', titleY: 1078, obsBase: 1125.7, synBase: 1152.3, obs: bKtl0TObs, syn: bKtl0TSyn },
        { name: 'PBA0_T', titleY: 1235, obsBase: 1274.3, synBase: 1295.7, obs: bPba0TObs, syn: bPba0TSyn },
      ] },
    ],
  },
];

const RED = '#e2202a';
const BLUE = '#3a3ad4';
const AXIS = '#8a8a8a';
const SANS = '"Liberation Sans", Arial, Helvetica, sans-serif';
const XAXIS_H = 40;

const build = (pts: Pt[], lift: number) => pts.map(([t, a]) => ({ t, v: lift + a }));

const makeTick = (tickLen: number, labelDy: number) => (props: any) => {
  const { x, y, payload } = props;
  return (
    <g>
      <line x1={x} x2={x} y1={y - tickLen} y2={y} stroke={AXIS} strokeWidth={1.3} />
      <text x={x + 4} y={y + labelDy} textAnchor="middle" fontFamily={SANS} fontWeight="bold" fontSize={17} fill="#111">
        {payload.value}
      </text>
    </g>
  );
};

function ColumnChart({ fig, col, ci }: { fig: Fig; col: Col; ci: number }) {
  const plotH = fig.axisY - fig.top;
  const left = col.x0 + fig.tMin * fig.pps;
  const width = (fig.tMax - fig.tMin) * fig.pps;
  const height = plotH + XAXIS_H;
  const tick = makeTick(fig.tickLen, fig.labelDy);
  const lines: React.ReactElement[] = [];
  col.panels.forEach((p, pi) => {
    lines.push(
      <Line key={`o${ci}${pi}`} data={build(p.syn, fig.axisY - p.synBase)} dataKey="v" type="monotoneX" dot={false}
        activeDot={false} stroke={BLUE} strokeWidth={1.8} isAnimationActive={false} />
    );
    lines.push(
      <Line key={`s${ci}${pi}`} data={build(p.obs, fig.axisY - p.obsBase)} dataKey="v" type="monotoneX" dot={false}
        activeDot={false} stroke={RED} strokeWidth={2} isAnimationActive={false} />
    );
  });
  return (
    <div style={{ position: 'absolute', left, top: fig.top, width, height }}>
      <LineChart width={width} height={height} margin={{ top: 0, right: 0, bottom: 0, left: 0 }}>
        <XAxis dataKey="t" type="number" domain={[fig.tMin, fig.tMax]} ticks={fig.ticks} interval={0}
          height={XAXIS_H} axisLine={false} tickLine={false} tickSize={0} tickMargin={0} tick={tick} />
        <YAxis hide type="number" domain={[0, plotH]} />
        <ReferenceLine segment={[{ x: fig.axisFrom, y: 0 }, { x: fig.axisTo, y: 0 }]} stroke={AXIS} strokeWidth={1.3} />
        {lines}
      </LineChart>
    </div>
  );
}

function Watermark() {
  const shapes = [0, 970].map((dy) => (
    <g key={dy} fill="none" stroke="#ececec" strokeWidth={2}>
      <rect x={17} y={105 + dy} width={44} height={165} rx={3} />
      <path d={`M 66 ${270 + dy} V ${150 + dy} Q 66 ${104 + dy} 112 ${102 + dy} Q 140 ${102 + dy} 152 ${118 + dy}`} />
      <path d={`M 1050 ${270 + dy} V ${165 + dy} Q 1050 ${108 + dy} 1110 ${106 + dy} L 1143 ${108 + dy}`} />
      <path d={`M 1095 ${270 + dy} V ${196 + dy} Q 1095 ${158 + dy} 1130 ${158 + dy} L 1143 ${160 + dy}`} />
      <path d={`M 1050 ${270 + dy} H 1095`} />
    </g>
  ));
  return (
    <svg width={1143} height={1476} style={{ position: 'absolute', left: 0, top: 0 }}>
      {shapes}
    </svg>
  );
}

function Labels() {
  const items: React.ReactElement[] = [];
  FIGS.forEach((fig) => {
    fig.cols.forEach((col, ci) => {
      col.panels.forEach((p, pi) => {
        items.push(
          <text key={`${fig.key}t${ci}${pi}`} x={col.titleX} y={p.titleY} fontFamily={SANS} fontWeight="bold" fontSize={19} fill="#111">
            {p.name}
          </text>
        );
      });
      items.push(
        <text key={`${fig.key}time${ci}`} x={col.timeX} y={fig.timeY} textAnchor="middle" fontFamily={SANS} fontWeight="bold" fontSize={18} fill="#111">
          Time (sec)
        </text>
      );
    });
    items.push(
      <text key={`${fig.key}obs`} x={fig.obsLbl[0]} y={fig.obsLbl[1]} fontFamily={SANS} fontWeight="bold" fontSize={14} fill="#444">Obs</text>
    );
    items.push(
      <text key={`${fig.key}syn`} x={fig.synLbl[0]} y={fig.synLbl[1]} fontFamily={SANS} fontWeight="bold" fontSize={14} fill="#444">Syn</text>
    );
    items.push(
      <text key={`${fig.key}cap`} x={fig.capX} y={fig.capY} textAnchor="middle" fontFamily='"DejaVu Serif", "Liberation Serif", serif' fontWeight="bold" fontSize={21} fill="#111">
        {fig.cap}
      </text>
    );
  });
  return (
    <svg width={1143} height={1476} style={{ position: 'absolute', left: 0, top: 0, pointerEvents: 'none' }}>
      {items}
    </svg>
  );
}

export default function App() {
  return (
    <div style={{ position: 'absolute', left: 0, top: 0, width: 1143, height: 1476, background: '#fff', overflow: 'hidden' }}>
      <Watermark />
      {FIGS.map((fig) => fig.cols.map((col, ci) => <ColumnChart key={`${fig.key}${ci}`} fig={fig} col={col} ci={ci} />))}
      <Labels />
    </div>
  );
}
